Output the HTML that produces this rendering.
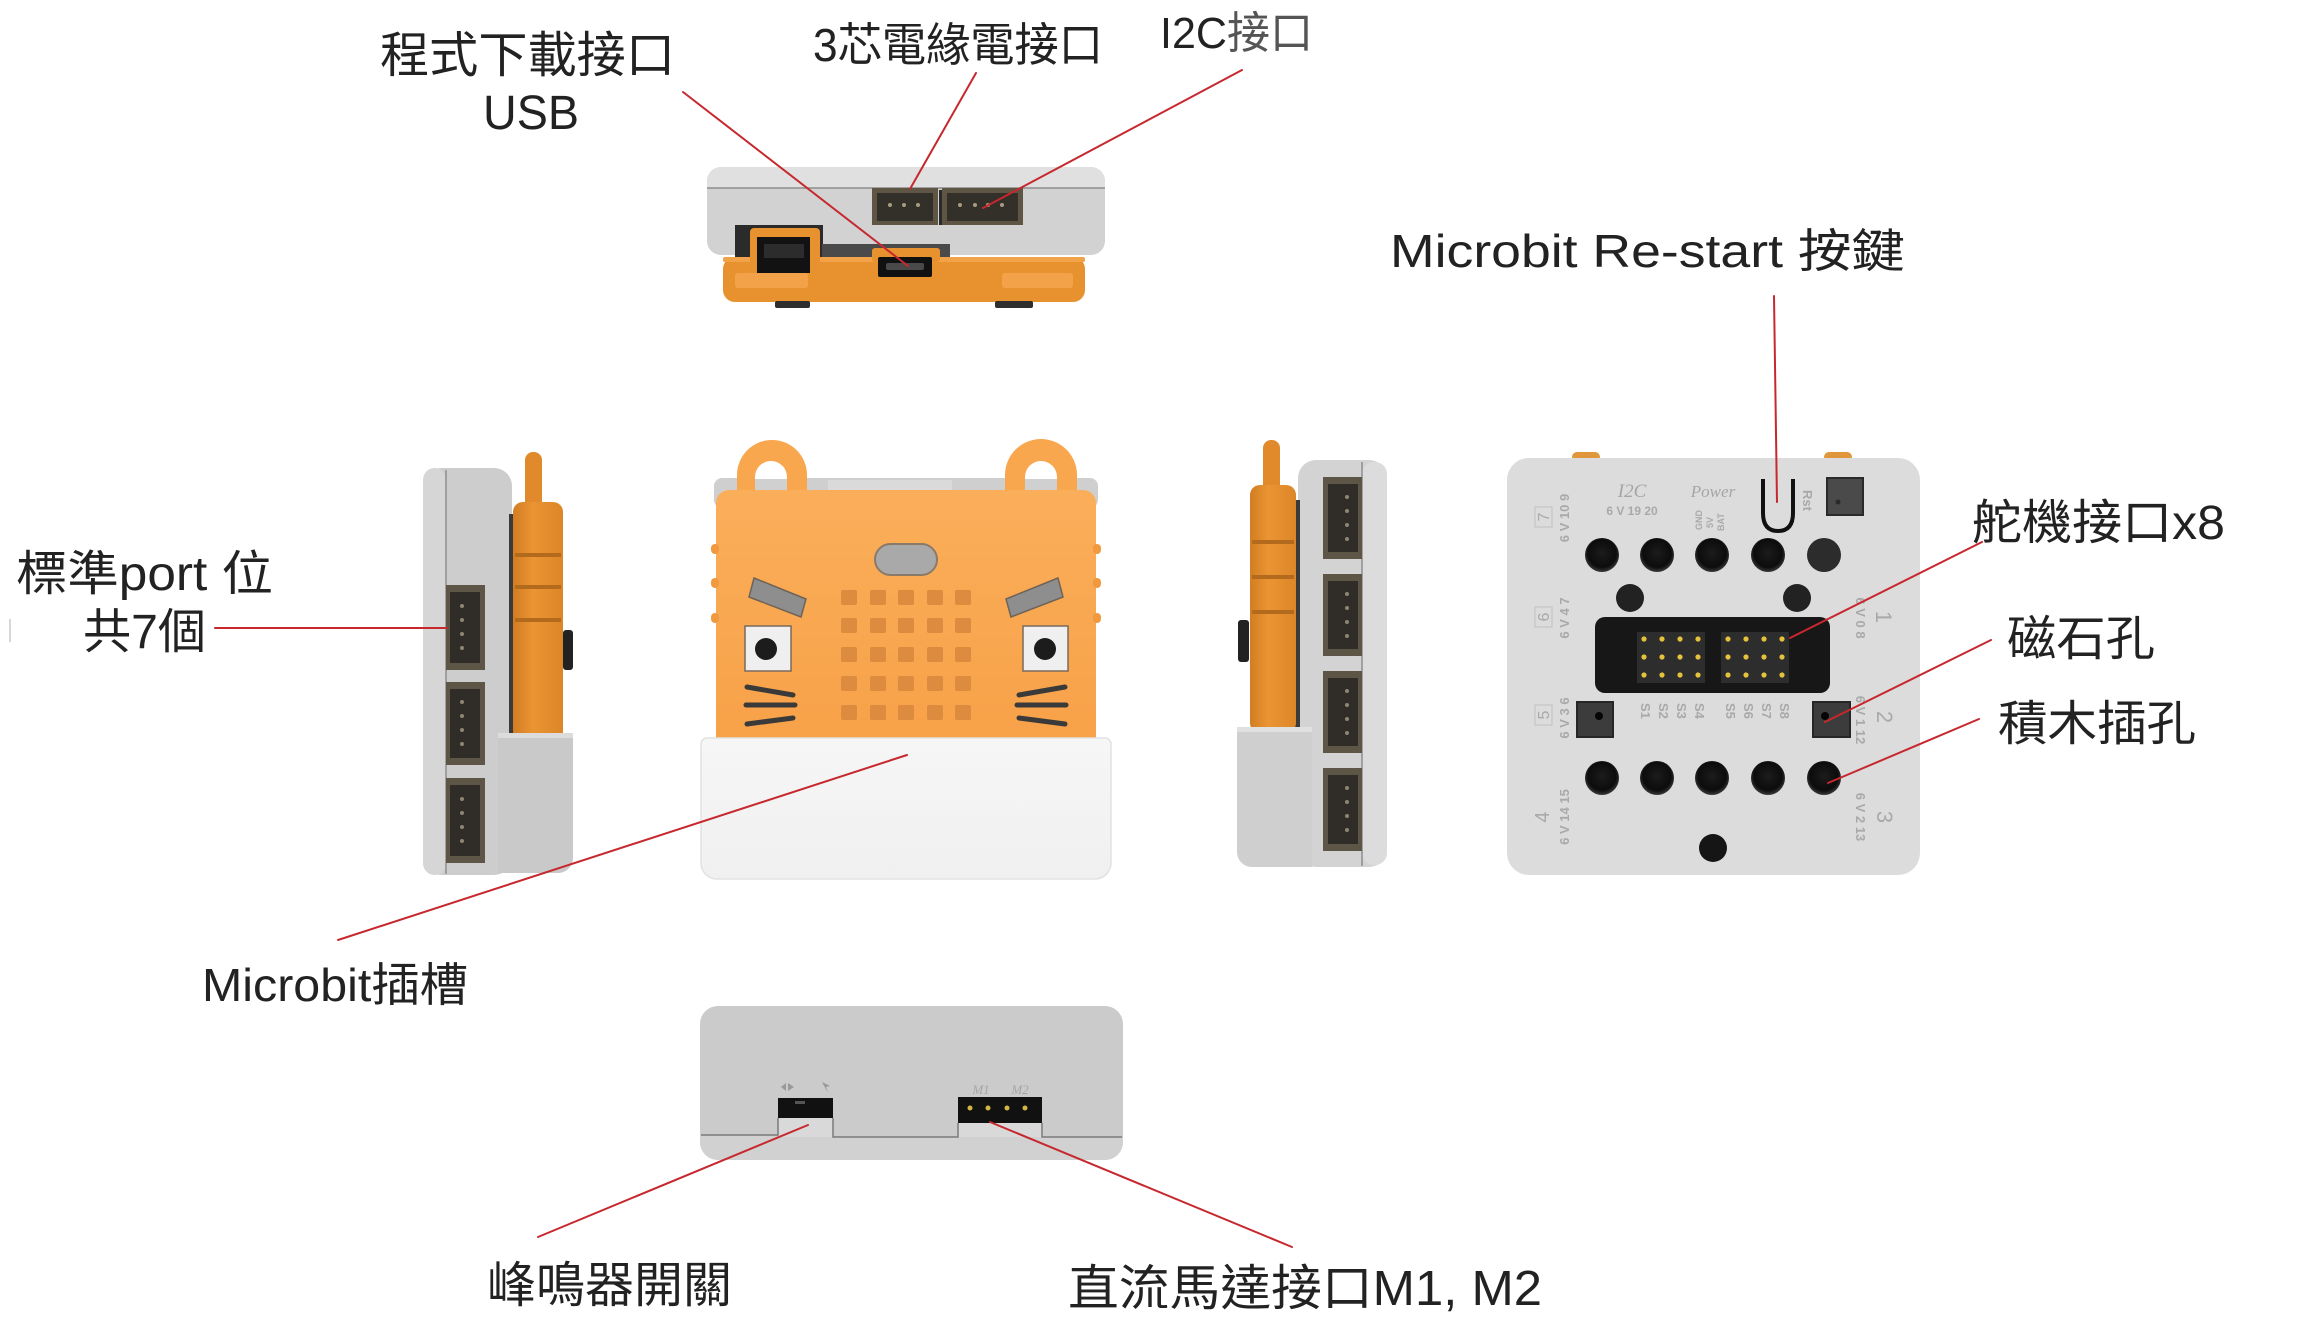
<!DOCTYPE html>
<html>
<head>
<meta charset="utf-8">
<style>
html,body{margin:0;padding:0;background:#fff;}
svg{display:block;}
.lbl{font-family:"Liberation Sans","Noto Sans CJK TC",sans-serif;fill:#222;}
.sm{font-family:"Liberation Sans","Noto Sans CJK TC",sans-serif;fill:#a9a9a9;}
.ser{font-family:"Liberation Serif",serif;fill:#a5a5a5;font-style:italic;}
</style>
</head>
<body>
<svg width="2304" height="1321" viewBox="0 0 2304 1321" xmlns="http://www.w3.org/2000/svg">
<defs>
  <radialGradient id="hole" cx="50%" cy="45%" r="55%">
    <stop offset="0" stop-color="#1c1c1c"/>
    <stop offset="0.75" stop-color="#0c0c0c"/>
    <stop offset="1" stop-color="#3a3a3a"/>
  </radialGradient>
  <linearGradient id="orFront" x1="0" y1="0" x2="0" y2="1">
    <stop offset="0" stop-color="#fbae5a"/>
    <stop offset="1" stop-color="#f7a148"/>
  </linearGradient>
  <linearGradient id="orSide" x1="0" y1="0" x2="1" y2="0">
    <stop offset="0" stop-color="#d27d22"/>
    <stop offset="0.4" stop-color="#ea9433"/>
    <stop offset="1" stop-color="#dc8629"/>
  </linearGradient>
  <linearGradient id="whiteBase" x1="0" y1="0" x2="0" y2="1">
    <stop offset="0" stop-color="#f6f6f6"/>
    <stop offset="1" stop-color="#f0f0f0"/>
  </linearGradient>
</defs>

<line x1="10" y1="619" x2="10" y2="642" stroke="#d8d8d8" stroke-width="2"/>

<!-- TOP VIEW DEVICE -->
<g>
  <rect x="707" y="167" width="398" height="88" rx="14" fill="#d2d2d2"/>
  <path d="M721,167 H1091 A14,14 0 0 1 1105,181 V188 H707 V181 A14,14 0 0 1 721,167 Z" fill="#e0e0e0"/>
  <line x1="707" y1="188" x2="1105" y2="188" stroke="#8c8c8c" stroke-width="1.5"/>
  <rect x="872" y="188" width="66" height="37" fill="#5e5545"/>
  <rect x="877" y="193" width="56" height="28" fill="#332f29"/>
  <circle cx="890" cy="205" r="2" fill="#a99a80"/>
  <circle cx="904" cy="205" r="2" fill="#a99a80"/>
  <circle cx="918" cy="205" r="2" fill="#a99a80"/>
  <rect x="939" y="190" width="3" height="35" fill="#2a2a2a"/>
  <rect x="942" y="188" width="81" height="37" fill="#5e5545"/>
  <rect x="947" y="193" width="71" height="28" fill="#332f29"/>
  <circle cx="960" cy="205" r="2" fill="#a99a80"/>
  <circle cx="975" cy="205" r="2" fill="#a99a80"/>
  <circle cx="988" cy="205" r="2" fill="#a99a80"/>
  <circle cx="1002" cy="205" r="2" fill="#a99a80"/>
  <rect x="735" y="225" width="88" height="35" fill="#2b2b2b"/>
  <rect x="822" y="244" width="128" height="14" fill="#4a4a4a"/>
  <rect x="723" y="257" width="362" height="45" rx="12" fill="#e8912f"/>
  <rect x="723" y="257" width="362" height="5" rx="2" fill="#f2a249"/>
  <rect x="750" y="228" width="70" height="45" rx="4" fill="#e8912f"/>
  <rect x="757" y="237" width="53" height="36" fill="#121212"/>
  <rect x="764" y="244" width="40" height="14" fill="#2c2c2c"/>
  <rect x="872" y="248" width="68" height="14" rx="3" fill="#e8912f"/>
  <rect x="878" y="257" width="54" height="20" rx="2" fill="#111"/>
  <rect x="886" y="263" width="38" height="7" rx="2" fill="#4a4a4a"/>
  <rect x="735" y="273" width="73" height="15" rx="3" fill="#f3a24a"/>
  <rect x="1002" y="273" width="71" height="15" rx="3" fill="#f3a24a"/>
  <rect x="775" y="301" width="35" height="7" rx="2" fill="#2f2f2f"/>
  <rect x="995" y="301" width="38" height="7" rx="2" fill="#2f2f2f"/>
</g>

<!-- LEFT SIDE DEVICE -->
<g>
  <rect x="423" y="468" width="89" height="407" rx="18" fill="#cdcdcd"/>
  <rect x="423" y="468" width="23" height="407" rx="12" fill="#d6d6d6"/>
  <line x1="446" y1="470" x2="446" y2="874" stroke="#8e8e8e" stroke-width="1.5"/>
  <g fill="#5d5546">
    <rect x="446" y="585" width="39" height="85"/>
    <rect x="446" y="682" width="39" height="83"/>
    <rect x="446" y="778" width="39" height="85"/>
  </g>
  <g fill="#302c27">
    <rect x="450" y="592" width="30" height="71"/>
    <rect x="450" y="689" width="30" height="69"/>
    <rect x="450" y="785" width="30" height="71"/>
  </g>
  <g fill="#8e8574">
    <circle cx="462" cy="606" r="2"/><circle cx="462" cy="620" r="2"/><circle cx="462" cy="634" r="2"/><circle cx="462" cy="648" r="2"/>
    <circle cx="462" cy="702" r="2"/><circle cx="462" cy="716" r="2"/><circle cx="462" cy="730" r="2"/><circle cx="462" cy="744" r="2"/>
    <circle cx="462" cy="799" r="2"/><circle cx="462" cy="813" r="2"/><circle cx="462" cy="827" r="2"/><circle cx="462" cy="841" r="2"/>
  </g>
  <rect x="509" y="514" width="6" height="225" fill="#3a3a3a"/>
  <rect x="525" y="452" width="17" height="62" rx="8" fill="#e18a2b"/>
  <rect x="513" y="502" width="50" height="240" rx="10" fill="url(#orSide)"/>
  <rect x="515" y="553" width="46" height="4" fill="#b46a1c"/>
  <rect x="515" y="585" width="46" height="4" fill="#b46a1c"/>
  <rect x="515" y="618" width="46" height="4" fill="#b46a1c"/>
  <rect x="563" y="630" width="10" height="40" rx="3" fill="#222"/>
  <path d="M498,733 H573 V858 A15,15 0 0 1 558,873 H498 Z" fill="#c9c9c9"/>
  <rect x="498" y="733" width="75" height="5" fill="#dcdcdc"/>
</g>

<!-- FRONT MICRO:BIT -->
<g>
  <rect x="714" y="478" width="384" height="30" rx="8" fill="#cfcfcf"/>
  <rect x="828" y="480" width="124" height="14" fill="#dadada"/>
  <path d="M737,500 V475 A35,35 0 0 1 807,475 V500 Z" fill="#f8a74e"/>
  <path d="M755,500 V477 A16,16 0 0 1 787,477 V500 Z" fill="#ffffff"/>
  <rect x="755" y="479" width="32" height="21" fill="#d0d0d0"/>
  <path d="M1005,500 V475 A36,36 0 0 1 1077,475 V500 Z" fill="#f8a74e"/>
  <path d="M1025,500 V477 A16,16 0 0 1 1057,477 V500 Z" fill="#ffffff"/>
  <rect x="1025" y="479" width="32" height="21" fill="#d0d0d0"/>
  <rect x="716" y="490" width="380" height="260" rx="13" fill="url(#orFront)"/>
  <g fill="#f0993f">
    <rect x="711" y="544" width="8" height="10" rx="4"/>
    <rect x="711" y="578" width="8" height="10" rx="4"/>
    <rect x="711" y="613" width="8" height="10" rx="4"/>
    <rect x="1093" y="544" width="8" height="10" rx="4"/>
    <rect x="1093" y="578" width="8" height="10" rx="4"/>
    <rect x="1093" y="613" width="8" height="10" rx="4"/>
  </g>
  <rect x="875" y="544" width="62" height="31" rx="15.5" fill="#a9a9a9" stroke="#8a7a6a" stroke-width="2"/>
  <polygon points="754,578 806,599 801,617 749,597" fill="#8e8e8e" stroke="#6f6357" stroke-width="1.5"/>
  <polygon points="1058,578 1006,599 1011,617 1063,597" fill="#8e8e8e" stroke="#6f6357" stroke-width="1.5"/>
  <g fill="#dc8b3f">
    <rect x="841" y="590" width="16" height="15" rx="2"/><rect x="870" y="590" width="16" height="15" rx="2"/><rect x="898" y="590" width="16" height="15" rx="2"/><rect x="927" y="590" width="16" height="15" rx="2"/><rect x="955" y="590" width="16" height="15" rx="2"/>
    <rect x="841" y="618" width="16" height="15" rx="2"/><rect x="870" y="618" width="16" height="15" rx="2"/><rect x="898" y="618" width="16" height="15" rx="2"/><rect x="927" y="618" width="16" height="15" rx="2"/><rect x="955" y="618" width="16" height="15" rx="2"/>
    <rect x="841" y="647" width="16" height="15" rx="2"/><rect x="870" y="647" width="16" height="15" rx="2"/><rect x="898" y="647" width="16" height="15" rx="2"/><rect x="927" y="647" width="16" height="15" rx="2"/><rect x="955" y="647" width="16" height="15" rx="2"/>
    <rect x="841" y="676" width="16" height="15" rx="2"/><rect x="870" y="676" width="16" height="15" rx="2"/><rect x="898" y="676" width="16" height="15" rx="2"/><rect x="927" y="676" width="16" height="15" rx="2"/><rect x="955" y="676" width="16" height="15" rx="2"/>
    <rect x="841" y="705" width="16" height="15" rx="2"/><rect x="870" y="705" width="16" height="15" rx="2"/><rect x="898" y="705" width="16" height="15" rx="2"/><rect x="927" y="705" width="16" height="15" rx="2"/><rect x="955" y="705" width="16" height="15" rx="2"/>
  </g>
  <rect x="745" y="626" width="46" height="45" fill="#efefef" stroke="#7a6a5a" stroke-width="1.5"/>
  <circle cx="766" cy="649" r="11" fill="#1c1c1c"/>
  <rect x="1023" y="626" width="45" height="45" fill="#efefef" stroke="#7a6a5a" stroke-width="1.5"/>
  <circle cx="1045" cy="649" r="11" fill="#1c1c1c"/>
  <g stroke="#3a3a3a" stroke-width="5" stroke-linecap="round" fill="none">
    <line x1="747" y1="687" x2="793" y2="695"/>
    <line x1="746" y1="705" x2="795" y2="705"/>
    <line x1="747" y1="724" x2="793" y2="718"/>
    <line x1="1065" y1="687" x2="1019" y2="695"/>
    <line x1="1066" y1="705" x2="1017" y2="705"/>
    <line x1="1065" y1="724" x2="1019" y2="718"/>
  </g>
  <path d="M707,738 H1105 A6,6 0 0 1 1111,744 V863 A16,16 0 0 1 1095,879 H717 A16,16 0 0 1 701,863 V744 A6,6 0 0 1 707,738 Z" fill="url(#whiteBase)" stroke="#e2e2e2" stroke-width="1.5"/>
</g>

<!-- RIGHT SIDE DEVICE -->
<g>
  <rect x="1298" y="460" width="89" height="407" rx="18" fill="#d3d3d3"/>
  <rect x="1362" y="462" width="25" height="403" rx="12" fill="#dcdcdc"/>
  <line x1="1362" y1="462" x2="1362" y2="866" stroke="#8e8e8e" stroke-width="1.5"/>
  <g fill="#5d5546">
    <rect x="1323" y="477" width="39" height="82"/>
    <rect x="1323" y="574" width="39" height="82"/>
    <rect x="1323" y="671" width="39" height="82"/>
    <rect x="1323" y="768" width="39" height="83"/>
  </g>
  <g fill="#302c27">
    <rect x="1328" y="484" width="30" height="68"/>
    <rect x="1328" y="581" width="30" height="68"/>
    <rect x="1328" y="678" width="30" height="68"/>
    <rect x="1328" y="775" width="30" height="69"/>
  </g>
  <g fill="#8e8574">
    <circle cx="1347" cy="497" r="2"/><circle cx="1347" cy="511" r="2"/><circle cx="1347" cy="525" r="2"/><circle cx="1347" cy="539" r="2"/>
    <circle cx="1347" cy="594" r="2"/><circle cx="1347" cy="608" r="2"/><circle cx="1347" cy="622" r="2"/><circle cx="1347" cy="636" r="2"/>
    <circle cx="1347" cy="691" r="2"/><circle cx="1347" cy="705" r="2"/><circle cx="1347" cy="719" r="2"/><circle cx="1347" cy="733" r="2"/>
    <circle cx="1347" cy="788" r="2"/><circle cx="1347" cy="802" r="2"/><circle cx="1347" cy="816" r="2"/><circle cx="1347" cy="830" r="2"/>
  </g>
  <rect x="1294" y="500" width="6" height="230" fill="#3a3a3a"/>
  <rect x="1263" y="440" width="17" height="60" rx="8" fill="#e18a2b"/>
  <rect x="1250" y="485" width="46" height="248" rx="10" fill="url(#orSide)"/>
  <rect x="1252" y="540" width="42" height="4" fill="#b46a1c"/>
  <rect x="1252" y="575" width="42" height="4" fill="#b46a1c"/>
  <rect x="1252" y="610" width="42" height="4" fill="#b46a1c"/>
  <rect x="1238" y="620" width="11" height="42" rx="3" fill="#222"/>
  <path d="M1237,727 H1312 V867 H1252 A15,15 0 0 1 1237,852 Z" fill="#cfcfcf"/>
  <rect x="1237" y="727" width="75" height="5" fill="#e0e0e0"/>
</g>

<!-- RIGHT BOARD -->
<g>
  <rect x="1572" y="452" width="28" height="10" rx="5" fill="#e0963a"/>
  <rect x="1824" y="452" width="28" height="10" rx="5" fill="#e0963a"/>
  <rect x="1507" y="458" width="413" height="417" rx="22" fill="#dcdcdc"/>
  <circle cx="1602" cy="555" r="17" fill="url(#hole)"/>
  <circle cx="1657" cy="555" r="17" fill="url(#hole)"/>
  <circle cx="1712" cy="555" r="17" fill="url(#hole)"/>
  <circle cx="1768" cy="555" r="17" fill="url(#hole)"/>
  <circle cx="1824" cy="555" r="17" fill="#2c2c2c"/>
  <circle cx="1630" cy="598" r="14" fill="#222"/>
  <circle cx="1797" cy="598" r="14" fill="#222"/>
  <rect x="1595" y="617" width="235" height="76" rx="10" fill="#171717"/>
  <rect x="1637" y="632" width="68" height="51" fill="#2d2d2d"/>
  <rect x="1721" y="632" width="68" height="51" fill="#2d2d2d"/>
  <g fill="#e6c23c">
    <circle cx="1644" cy="639" r="2.6"/><circle cx="1662" cy="639" r="2.6"/><circle cx="1680" cy="639" r="2.6"/><circle cx="1698" cy="639" r="2.6"/>
    <circle cx="1644" cy="657" r="2.6"/><circle cx="1662" cy="657" r="2.6"/><circle cx="1680" cy="657" r="2.6"/><circle cx="1698" cy="657" r="2.6"/>
    <circle cx="1644" cy="675" r="2.6"/><circle cx="1662" cy="675" r="2.6"/><circle cx="1680" cy="675" r="2.6"/><circle cx="1698" cy="675" r="2.6"/>
    <circle cx="1728" cy="639" r="2.6"/><circle cx="1746" cy="639" r="2.6"/><circle cx="1764" cy="639" r="2.6"/><circle cx="1782" cy="639" r="2.6"/>
    <circle cx="1728" cy="657" r="2.6"/><circle cx="1746" cy="657" r="2.6"/><circle cx="1764" cy="657" r="2.6"/><circle cx="1782" cy="657" r="2.6"/>
    <circle cx="1728" cy="675" r="2.6"/><circle cx="1746" cy="675" r="2.6"/><circle cx="1764" cy="675" r="2.6"/><circle cx="1782" cy="675" r="2.6"/>
  </g>
  <rect x="1577" y="702" width="36" height="35" fill="#3c3c3c" stroke="#262626" stroke-width="2"/>
  <circle cx="1599" cy="716" r="4" fill="#050505"/>
  <rect x="1813" y="702" width="37" height="35" fill="#3c3c3c" stroke="#262626" stroke-width="2"/>
  <circle cx="1825" cy="716" r="4" fill="#050505"/>
  <circle cx="1602" cy="778" r="17" fill="url(#hole)"/>
  <circle cx="1657" cy="778" r="17" fill="url(#hole)"/>
  <circle cx="1712" cy="778" r="17" fill="url(#hole)"/>
  <circle cx="1768" cy="778" r="17" fill="url(#hole)"/>
  <circle cx="1824" cy="778" r="17" fill="url(#hole)"/>
  <circle cx="1713" cy="848" r="14" fill="#151515"/>
  <path d="M1763,479 V513 Q1763,531 1778,531 Q1793,531 1793,513 V479" fill="none" stroke="#111" stroke-width="4"/>
  <rect x="1827" y="478" width="36" height="37" fill="#4a4a4a" stroke="#2a2a2a" stroke-width="2"/>
  <circle cx="1838" cy="502" r="2.5" fill="#2a2a2a"/>
  <text class="ser" x="1632" y="497" font-size="19" text-anchor="middle">I2C</text>
  <text class="sm" x="1632" y="515" font-size="12" text-anchor="middle" font-weight="bold">6 V 19 20</text>
  <text class="ser" x="1713" y="497" font-size="17" text-anchor="middle">Power</text>
  <text class="sm" font-size="9" font-weight="bold" transform="translate(1702,530) rotate(-90)">GND</text>
  <text class="sm" font-size="9" font-weight="bold" transform="translate(1713,528) rotate(-90)">5V</text>
  <text class="sm" font-size="9" font-weight="bold" transform="translate(1724,531) rotate(-90)">BAT</text>
  <text class="sm" font-size="13" font-weight="bold" transform="translate(1803,490) rotate(90)">Rst</text>
  <text class="sm" font-size="13" font-weight="bold" text-anchor="middle" transform="translate(1569,518) rotate(-90)">6 V 10 9</text>
  <rect x="1535" y="507" width="17" height="20" fill="none" stroke="#c4c4c4" stroke-width="1.2"/>
  <text class="sm" font-size="16" text-anchor="middle" transform="translate(1549,517) rotate(-90)">7</text>
  <text class="sm" font-size="13" font-weight="bold" text-anchor="middle" transform="translate(1569,618) rotate(-90)">6 V 4 7</text>
  <rect x="1535" y="607" width="17" height="20" fill="none" stroke="#c4c4c4" stroke-width="1.2"/>
  <text class="sm" font-size="16" text-anchor="middle" transform="translate(1549,617) rotate(-90)">6</text>
  <text class="sm" font-size="13" font-weight="bold" text-anchor="middle" transform="translate(1569,718) rotate(-90)">6 V 3 6</text>
  <rect x="1535" y="705" width="17" height="20" fill="none" stroke="#c4c4c4" stroke-width="1.2"/>
  <text class="sm" font-size="16" text-anchor="middle" transform="translate(1549,715) rotate(-90)">5</text>
  <text class="sm" font-size="13" font-weight="bold" text-anchor="middle" transform="translate(1569,817) rotate(-90)">6 V 14 15</text>
  <text class="sm" font-size="20" text-anchor="middle" transform="translate(1549,817) rotate(-90)">4</text>
  <text class="sm" font-size="13" font-weight="bold" text-anchor="middle" transform="translate(1856,618) rotate(90)">6 V 0 8</text>
  <text class="sm" font-size="22" text-anchor="middle" transform="translate(1876,617) rotate(90)">1</text>
  <text class="sm" font-size="13" font-weight="bold" text-anchor="middle" transform="translate(1856,720) rotate(90)">6 V 1 12</text>
  <text class="sm" font-size="22" text-anchor="middle" transform="translate(1877,717) rotate(90)">2</text>
  <text class="sm" font-size="13" font-weight="bold" text-anchor="middle" transform="translate(1856,817) rotate(90)">6 V 2 13</text>
  <text class="sm" font-size="22" text-anchor="middle" transform="translate(1877,817) rotate(90)">3</text>
  <g class="sm" font-size="13" font-weight="bold">
    <text transform="translate(1641,703) rotate(90)">S1</text>
    <text transform="translate(1659,703) rotate(90)">S2</text>
    <text transform="translate(1677,703) rotate(90)">S3</text>
    <text transform="translate(1695,703) rotate(90)">S4</text>
    <text transform="translate(1726,703) rotate(90)">S5</text>
    <text transform="translate(1744,703) rotate(90)">S6</text>
    <text transform="translate(1762,703) rotate(90)">S7</text>
    <text transform="translate(1780,703) rotate(90)">S8</text>
  </g>
</g>

<!-- BOTTOM VIEW DEVICE -->
<g>
  <rect x="700" y="1006" width="423" height="154" rx="18" fill="#cbcbcb"/>
  <path d="M700,1135 H778 V1137 H1123 V1142 A18,18 0 0 1 1105,1160 H718 A18,18 0 0 1 700,1142 Z" fill="#d1d1d1"/>
  <rect x="778" y="1118" width="55" height="19" fill="#d9d9d9"/>
  <rect x="958" y="1123" width="84" height="14" fill="#d9d9d9"/>
  <g fill="none" stroke="#7a7a7a" stroke-width="1.5">
    <polyline points="701,1135 778,1135 778,1118"/>
    <polyline points="833,1118 833,1137 958,1137 958,1123"/>
    <polyline points="1042,1123 1042,1137 1122,1137"/>
  </g>
  <rect x="778" y="1098" width="55" height="20" fill="#111"/>
  <rect x="795" y="1101" width="10" height="3" fill="#555"/>
  <rect x="958" y="1097" width="84" height="26" fill="#111"/>
  <g fill="#d4b444">
    <circle cx="970" cy="1108" r="2.5"/><circle cx="988" cy="1108" r="2.5"/><circle cx="1007" cy="1108" r="2.5"/><circle cx="1025" cy="1108" r="2.5"/>
  </g>
  <text class="ser" x="981" y="1094" font-size="13" text-anchor="middle" fill="#8a8a8a">M1</text>
  <text class="ser" x="1020" y="1094" font-size="13" text-anchor="middle" fill="#8a8a8a">M2</text>
  <path d="M781,1087 L786,1083 L786,1091 Z M788,1083 L794,1087 L788,1091 Z" fill="#999"/>
  <path d="M822,1082 L830,1086 L826,1087 L828,1093 Z" fill="#999"/>
</g>

<!-- LEADER LINES -->
<g stroke="#c6282e" stroke-width="2" fill="none" stroke-linecap="round">
  <line x1="683" y1="92" x2="908" y2="266"/>
  <line x1="976" y1="73" x2="910" y2="189"/>
  <line x1="1242" y1="70" x2="983" y2="208"/>
  <line x1="1774" y1="296" x2="1777" y2="502"/>
  <line x1="1982" y1="542" x2="1790" y2="638"/>
  <line x1="1991" y1="640" x2="1825" y2="722"/>
  <line x1="1979" y1="719" x2="1828" y2="783"/>
  <line x1="215" y1="628" x2="447" y2="628"/>
  <line x1="907" y1="755" x2="338" y2="940"/>
  <line x1="808" y1="1125" x2="538" y2="1237"/>
  <line x1="990" y1="1122" x2="1292" y2="1247"/>
</g>

<!-- LABELS -->
<text class="lbl" x="380" y="72" font-size="49" textLength="295" lengthAdjust="spacingAndGlyphs">程式下載接口</text>
<text class="lbl" x="483" y="129" font-size="48" textLength="96" lengthAdjust="spacingAndGlyphs">USB</text>
<text class="lbl" x="813" y="61" font-size="46" textLength="290" lengthAdjust="spacingAndGlyphs">3芯電緣電接口</text>
<text class="lbl" x="1160" y="48" font-size="44" textLength="153" lengthAdjust="spacingAndGlyphs">I2C<tspan fill="#555">接口</tspan></text>
<text class="lbl" x="1390" y="267" font-size="46" textLength="515" lengthAdjust="spacingAndGlyphs">Microbit Re-start 按鍵</text>
<text class="lbl" x="1972" y="539" font-size="48" textLength="253" lengthAdjust="spacingAndGlyphs">舵機接口x8</text>
<text class="lbl" x="2007" y="655" font-size="48" textLength="148" lengthAdjust="spacingAndGlyphs">磁石孔</text>
<text class="lbl" x="1998" y="740" font-size="48" textLength="198" lengthAdjust="spacingAndGlyphs">積木插孔</text>
<text class="lbl" x="16" y="590" font-size="48" textLength="257" lengthAdjust="spacingAndGlyphs">標準port 位</text>
<text class="lbl" x="83" y="648" font-size="48" textLength="123" lengthAdjust="spacingAndGlyphs">共7個</text>
<text class="lbl" x="202" y="1001" font-size="46" textLength="266" lengthAdjust="spacingAndGlyphs">Microbit插槽</text>
<text class="lbl" x="487" y="1302" font-size="49" textLength="245" lengthAdjust="spacingAndGlyphs">峰鳴器開關</text>
<text class="lbl" x="1068" y="1305" font-size="49" textLength="474" lengthAdjust="spacingAndGlyphs">直流馬達接口M1, M2</text>
</svg>
</body>
</html>
